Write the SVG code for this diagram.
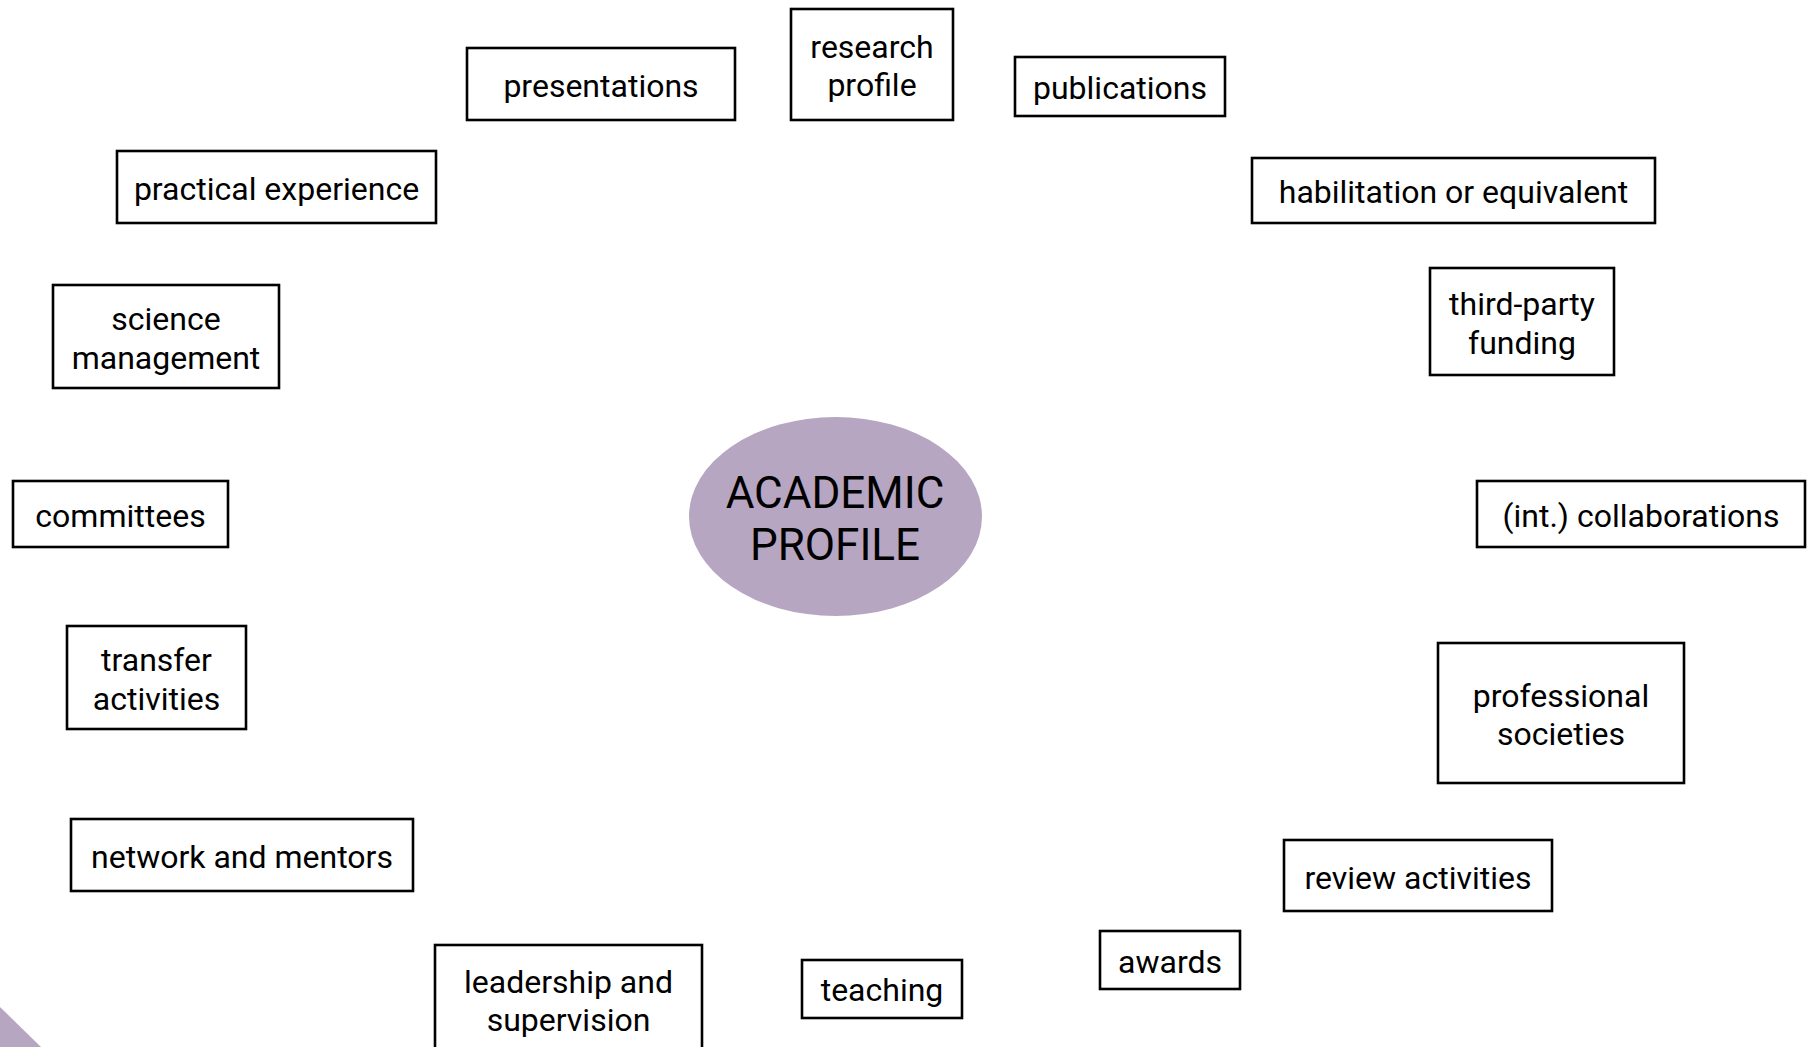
<svg xmlns="http://www.w3.org/2000/svg" width="1809" height="1047" viewBox="0 0 1809 1047">
  <style>
    .box { fill: #ffffff; stroke: #000000; stroke-width: 2.6; }
    .lbl { font-family: Roboto, "Liberation Sans", sans-serif; font-size: 32px; fill: #000000; text-anchor: middle; }
    .hub { fill: #b7a6c2; }
    .hubtxt { font-family: Roboto, "Liberation Sans", sans-serif; font-size: 44px; fill: #000000; text-anchor: middle; }
  </style>

  <rect width="1809" height="1047" fill="#ffffff"/>

  <!-- corner accent -->
  <polygon class="hub" points="0,1007 41,1047 0,1047"/>

  <!-- central node -->
  <g id="academic-profile">
    <ellipse class="hub" cx="835.5" cy="516.5" rx="146.5" ry="99.5"/>
    <text class="hubtxt" x="835" y="507.5">ACADEMIC</text>
    <text class="hubtxt" x="835" y="560">PROFILE</text>
  </g>

  <!-- surrounding nodes -->
  <g id="presentations">
    <rect class="box" x="467" y="48" width="268" height="72"/>
    <text class="lbl" x="601" y="96.5">presentations</text>
  </g>

  <g id="research-profile">
    <rect class="box" x="791" y="9" width="162" height="111"/>
    <text class="lbl" x="872" y="57.5">research</text>
    <text class="lbl" x="872" y="96">profile</text>
  </g>

  <g id="publications">
    <rect class="box" x="1015" y="57" width="210" height="59"/>
    <text class="lbl" x="1120" y="99">publications</text>
  </g>

  <g id="habilitation">
    <rect class="box" x="1252" y="158" width="403" height="65"/>
    <text class="lbl" x="1453.5" y="203">habilitation or equivalent</text>
  </g>

  <g id="third-party-funding">
    <rect class="box" x="1430" y="268" width="184" height="107"/>
    <text class="lbl" x="1522" y="314.5">third-party</text>
    <text class="lbl" x="1522" y="353.5">funding</text>
  </g>

  <g id="int-collaborations">
    <rect class="box" x="1477" y="481" width="328" height="66"/>
    <text class="lbl" x="1641" y="526.5">(int.) collaborations</text>
  </g>

  <g id="professional-societies">
    <rect class="box" x="1438" y="643" width="246" height="140"/>
    <text class="lbl" x="1561" y="706.5">professional</text>
    <text class="lbl" x="1561" y="745">societies</text>
  </g>

  <g id="review-activities">
    <rect class="box" x="1284" y="840" width="268" height="71"/>
    <text class="lbl" x="1418" y="888.5">review activities</text>
  </g>

  <g id="awards">
    <rect class="box" x="1100" y="931" width="140" height="58"/>
    <text class="lbl" x="1170" y="973">awards</text>
  </g>

  <g id="teaching">
    <rect class="box" x="802" y="960" width="160" height="58"/>
    <text class="lbl" x="882" y="1001">teaching</text>
  </g>

  <g id="leadership-supervision">
    <rect class="box" x="435" y="945" width="267" height="112"/>
    <text class="lbl" x="568.5" y="992.5">leadership and</text>
    <text class="lbl" x="568.5" y="1030.5">supervision</text>
  </g>

  <g id="network-mentors">
    <rect class="box" x="71" y="819" width="342" height="72"/>
    <text class="lbl" x="242" y="867.5">network and mentors</text>
  </g>

  <g id="transfer-activities">
    <rect class="box" x="67" y="626" width="179" height="103"/>
    <text class="lbl" x="156.5" y="671">transfer</text>
    <text class="lbl" x="156.5" y="709.5">activities</text>
  </g>

  <g id="committees">
    <rect class="box" x="13" y="481" width="215" height="66"/>
    <text class="lbl" x="120.5" y="526.5">committees</text>
  </g>

  <g id="science-management">
    <rect class="box" x="53" y="285" width="226" height="103"/>
    <text class="lbl" x="166" y="330">science</text>
    <text class="lbl" x="166" y="369">management</text>
  </g>

  <g id="practical-experience">
    <rect class="box" x="117" y="151" width="319" height="72"/>
    <text class="lbl" x="276.5" y="199.5">practical experience</text>
  </g>
</svg>
